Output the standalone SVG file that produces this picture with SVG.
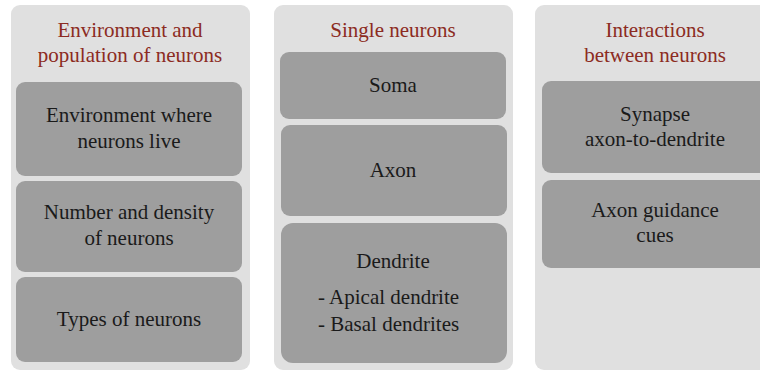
<svg xmlns="http://www.w3.org/2000/svg" width="760" height="372" viewBox="0 0 760 372" font-family="'Liberation Serif', 'Times New Roman', serif">
<style>
.panel{fill:#e0e0e0}
.box{fill:#9e9e9e}
.t{font-family:"Liberation Serif","Times New Roman",serif;font-size:21px;text-anchor:middle}
.ttl{fill:#8c2b22}
.lbl{fill:#1a1a1a}
.left{text-anchor:start}
</style>
<rect width="760" height="372" fill="#ffffff"/>
<g id="panel-environment">
<rect class="panel" x="11" y="5" width="239" height="365" rx="9"/>
<text class="t ttl" x="130" y="37">Environment and</text>
<text class="t ttl" x="130" y="62">population of neurons</text>
</g>
<g id="node-environment-where">
<rect class="box" x="16" y="82" width="226" height="94" rx="9"/>
<text class="t lbl" x="129" y="122">Environment where</text>
<text class="t lbl" x="129" y="148">neurons live</text>
</g>
<g id="node-number-density">
<rect class="box" x="16" y="181" width="226" height="91" rx="9"/>
<text class="t lbl" x="129" y="219">Number and density</text>
<text class="t lbl" x="129" y="245">of neurons</text>
</g>
<g id="node-types">
<rect class="box" x="16" y="277" width="226" height="85" rx="9"/>
<text class="t lbl" x="129" y="326">Types of neurons</text>
</g>
<g id="panel-single">
<rect class="panel" x="274" y="5" width="239" height="365" rx="9"/>
<text class="t ttl" x="393" y="37">Single neurons</text>
</g>
<g id="node-soma">
<rect class="box" x="280" y="52" width="226" height="67" rx="9"/>
<text class="t lbl" x="393" y="92">Soma</text>
</g>
<g id="node-axon">
<rect class="box" x="281" y="125" width="226" height="91" rx="9"/>
<text class="t lbl" x="393" y="177">Axon</text>
</g>
<g id="node-dendrite">
<rect class="box" x="281" y="223" width="226" height="140" rx="12"/>
<text class="t lbl" x="393" y="268">Dendrite</text>
<text class="t lbl left" x="318" y="304">- Apical dendrite</text>
<text class="t lbl left" x="318" y="331">- Basal dendrites</text>
</g>
<g id="panel-interactions">
<rect class="panel" x="535" y="5" width="240" height="365" rx="9"/>
<text class="t ttl" x="655" y="37">Interactions</text>
<text class="t ttl" x="655" y="62">between neurons</text>
</g>
<g id="node-synapse">
<rect class="box" x="542" y="81" width="226" height="92" rx="9"/>
<text class="t lbl" x="655" y="121">Synapse</text>
<text class="t lbl" x="655" y="146">axon-to-dendrite</text>
</g>
<g id="node-guidance">
<rect class="box" x="542" y="180" width="226" height="88" rx="9"/>
<text class="t lbl" x="655" y="217">Axon guidance</text>
<text class="t lbl" x="655" y="242">cues</text>
</g>
<g id="connectors"/>
</svg>
